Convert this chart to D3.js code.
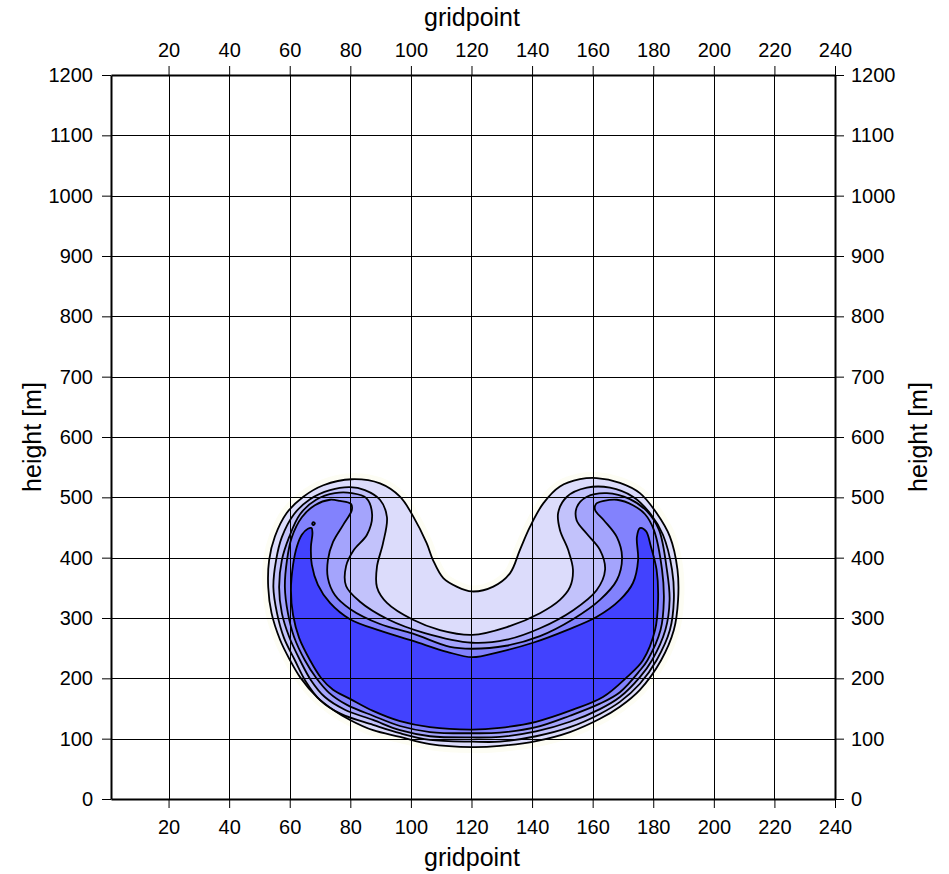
<!DOCTYPE html>
<html><head><meta charset="utf-8">
<script src="https://cdn.jsdelivr.net/npm/d3@7"></script>
<style>
body{margin:0;background:#fff}
text{font-family:"Liberation Sans",Arial,Helvetica,sans-serif;fill:#000}
</style>
</head><body>
<svg id="chart" width="949" height="874"></svg>
<script>
// ---------- data (gridpoint, height [m]) ----------
const xTicks = [20,40,60,80,100,120,140,160,180,200,220,240];
const yTicks = [0,100,200,300,400,500,600,700,800,900,1000,1100,1200];
const xGrid = [20,40,60,80,100,120,140,160,180,200,220];
const yGrid = [100,200,300,400,500,600,700,800,900,1000,1100];

// contour level 0 (outermost, kidney outline)
const contour0 = [[80.5,530],[71.1,520],[64.5,501],[59.0,474],[55.1,435],[53.2,396],[52.9,351],[54.0,308],[56.8,264],[60.1,230],[63.4,202],[69.0,169],[74.3,148],[79.9,131],[87.5,114],[96.4,103],[106.3,91],[120.2,86],[129.4,88],[141.3,96],[152.5,111],[162.4,133],[169.0,153],[175.6,181],[182.6,230],[186.8,280],[188.2,330],[188.0,380],[185.5,435],[181.1,474],[175.6,507],[169.0,524],[161.3,532],[155.8,530],[149.2,518],[143.7,490],[139.3,451],[136.0,413],[132.7,374],[127.2,352],[120.1,344],[115.1,352],[110.7,366],[107.3,396],[105.2,424],[100.8,468],[96.4,501],[89.8,523]];

const contour1 = [[79.9,517],[73.3,512],[66.7,497],[61.4,472],[57.4,434],[55.5,396],[54.6,351],[55.8,308],[58.1,267],[61.7,230],[65.4,194],[70.0,164],[76.9,141],[87.5,123],[96.4,109],[106.3,98],[120.2,95],[129.4,95],[141.3,104],[152.5,119],[162.4,141],[169.0,161],[175.6,191],[181.1,230],[185.5,280],[186.8,330],[186.2,380],[183.2,438],[179.2,472],[173.3,501],[165.7,516],[158.1,516],[151.5,501],[148.6,474],[149.2,446],[151.9,413],[153.5,380],[152.5,351],[149.2,330],[142.6,308],[131.7,285],[120.2,272],[109.6,280],[100.7,297],[92.1,325],[88.8,351],[88.8,385],[90.8,424],[92.1,467],[89.8,496],[84.8,512]];

const contour2 = [[80.5,507],[74.9,507],[68.7,496],[63.4,472],[59.8,434],[57.4,396],[56.5,351],[57.4,308],[59.8,269],[63.4,230],[67.0,197],[71.6,169],[78.2,148],[87.5,131],[96.4,114],[106.3,104],[120.2,102],[129.4,103],[141.3,112],[152.5,128],[162.4,149],[169.0,169],[175.6,202],[179.6,230],[184.0,280],[185.4,330],[184.5,380],[181.9,446],[177.9,477],[172.3,497],[164.7,507],[158.1,501],[154.8,484],[154.7,462],[158.0,440],[162.4,413],[164.1,380],[161.3,346],[153.6,313],[142.6,283],[131.6,264],[120.2,259],[104.6,275],[92.4,298],[83.2,327],[78.6,353],[78.6,386],[81.2,413],[85.5,438],[87.2,471],[85.2,499]];

const contour3 = [[80.5,479],[80.2,489],[76.6,494],[73.3,496],[68.3,487],[64.0,467],[60.7,434],[59.1,396],[58.4,351],[59.4,308],[61.4,269],[65.0,230],[68.7,201],[73.0,176],[78.9,156],[87.5,138],[96.4,121],[106.3,111],[120.2,109],[129.4,110],[141.3,119],[152.5,138],[162.4,158],[169.0,177],[175.6,213],[178.1,230],[182.4,280],[183.5,330],[182.9,380],[180.2,446],[177.3,472],[173.3,487],[168.0,496],[163.7,494],[161.1,489],[160.8,479],[163.7,462],[168.0,434],[169.7,401],[168.0,363],[162.4,330],[153.5,298],[142.6,270],[131.4,254],[120.2,249],[112.9,252],[100.7,274],[89.8,290],[79.9,315],[74.9,338],[72.6,366],[72.6,396],[74.3,426],[77.6,454]];

const contour4 = [[67.2,449],[66.0,448],[64.0,438],[62.4,419],[61.1,388],[60.4,346],[61.1,305],[63.1,267],[66.7,230],[70.3,201],[74.3,181],[79.9,166],[87.5,146],[96.4,129],[106.3,119],[120.2,115],[129.4,118],[141.3,128],[153.5,148],[163.4,169],[171.3,202],[176.6,230],[180.6,280],[181.6,330],[181.1,380],[179.2,419],[177.6,444],[175.6,449],[174.6,434],[175.0,396],[173.3,358],[169.0,330],[161.4,302],[151.5,280],[140.3,259],[129.4,244],[120.2,235],[111.9,244],[100.7,262],[89.8,279],[79.9,298],[73.3,325],[69.3,355],[67.3,388],[67.0,418],[67.5,441]];

// tiny isolated level-4 spot near the left tip
const contour4spot = [[67.4,456],[67.8,459],[68.3,457],[67.9,454]];

const contours = [contour0, contour1, contour2, contour3, contour4, contour4spot];
const levelIndex = [0,1,2,3,4,4];

// ---------- styles ----------
const fillColors = ["#dcdcfb","#c2c2fb","#a4a4fc","#8282fd","#4242fe"];

// ---------- layout ----------
const svg = d3.select("#chart");
const x = d3.scaleLinear().domain([1,240]).range([111,835]);
const y = d3.scaleLinear().domain([0,1200]).range([799,75]);

const line = d3.line()
  .x(d => x(d[0])).y(d => y(d[1]))
  .curve(d3.curveCatmullRomClosed.alpha(0.5));

// very faint halo around the field
svg.append("path").attr("d", line(contour0))
  .attr("fill","#fdfdf6").attr("stroke","#fdfdf4").attr("stroke-width",12)
  .attr("stroke-linejoin","round");

// filled levels
svg.append("g").selectAll("path").data(contours).join("path")
  .attr("d", d => line(d))
  .attr("fill", (d,i) => fillColors[levelIndex[i]])
  .attr("stroke","none");

// grid
const grid = svg.append("g").attr("stroke","#000").attr("stroke-width",1);
grid.selectAll("line.v").data(xGrid).join("line").attr("class","v")
  .attr("x1", d => Math.round(x(d))+0.5).attr("x2", d => Math.round(x(d))+0.5)
  .attr("y1", y(0)).attr("y2", y(1200));
grid.selectAll("line.h").data(yGrid).join("line").attr("class","h")
  .attr("y1", d => Math.round(y(d))+0.5).attr("y2", d => Math.round(y(d))+0.5)
  .attr("x1", x(1)).attr("x2", x(240));

// contour lines
svg.append("g").selectAll("path").data(contours).join("path")
  .attr("d", d => line(d))
  .attr("fill","none").attr("stroke","#000").attr("stroke-width",1.8)
  .attr("stroke-linejoin","round");

// axes
const fmt = d3.format("d");
function styleAxis(g){
  g.selectAll(".domain").attr("stroke","#000").attr("stroke-width",2);
  g.selectAll(".tick line").attr("stroke","#000").attr("stroke-width",1);
  g.selectAll(".tick text").attr("font-size","20px")
    .attr("font-family",'"Liberation Sans",Arial,sans-serif').attr("fill","#000");
}
svg.append("g").attr("transform","translate(0,799)")
  .call(d3.axisBottom(x).tickValues(xTicks).tickFormat(fmt).tickSize(9).tickSizeOuter(0).tickPadding(12))
  .call(styleAxis);
svg.append("g").attr("transform","translate(0,75)")
  .call(d3.axisTop(x).tickValues(xTicks).tickFormat(fmt).tickSize(9).tickSizeOuter(0).tickPadding(9))
  .call(styleAxis);
svg.append("g").attr("transform","translate(111,0)")
  .call(d3.axisLeft(y).tickValues(yTicks).tickFormat(fmt).tickSize(9).tickSizeOuter(0).tickPadding(9))
  .call(styleAxis);
svg.append("g").attr("transform","translate(835,0)")
  .call(d3.axisRight(y).tickValues(yTicks).tickFormat(fmt).tickSize(9).tickSizeOuter(0).tickPadding(7))
  .call(styleAxis);

// titles
svg.append("text").attr("x",472).attr("y",26).attr("text-anchor","middle")
  .attr("font-size","25px").text("gridpoint");
svg.append("text").attr("x",472).attr("y",866).attr("text-anchor","middle")
  .attr("font-size","25px").text("gridpoint");
svg.append("text").attr("transform","translate(41,437) rotate(-90)")
  .attr("text-anchor","middle").attr("font-size","25px").text("height [m]");
svg.append("text").attr("transform","translate(927,437) rotate(-90)")
  .attr("text-anchor","middle").attr("font-size","25px").text("height [m]");
</script>
</body></html>
